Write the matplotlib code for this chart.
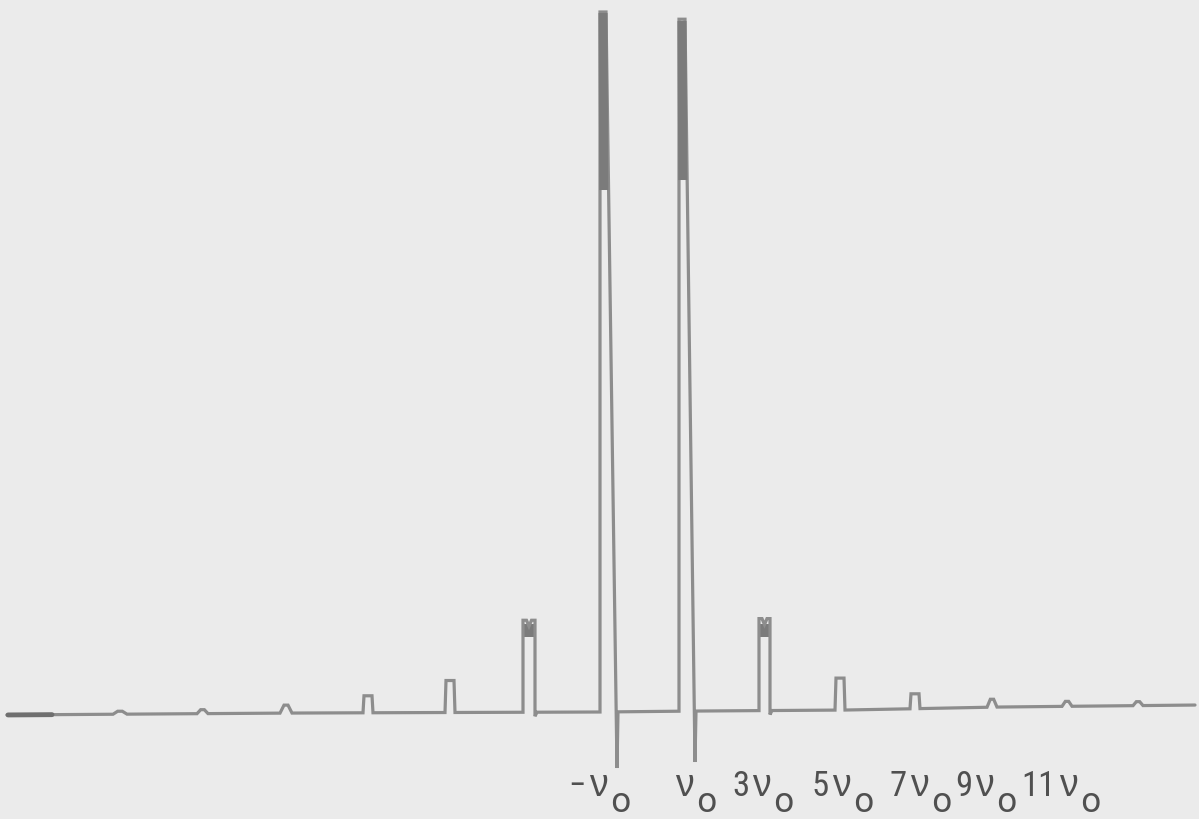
import matplotlib
matplotlib.use("Agg")
import matplotlib.pyplot as plt
from matplotlib import font_manager as fm
import numpy as np

# ---- data (scan position, amplitude above baseline) ----
harmonics   = [-13, -11, -9, -7, -5, -3, 3, 5, 7, 9, 11, 13]
peak_left   = [113, 197, 280, 363, 445, 523, 759, 835, 910, 987, 1062, 1133]
peak_right  = [127, 208, 292, 373, 455, 535, 770, 845, 920, 997, 1072, 1143]
peak_height = [3, 4, 8, 17, 32, 92, 92, 32, 15, 8, 5, 4]

# the two fundamental lines (-v0, +v0): rise, top end, fall end, height, undershoot
main_left   = [600, 679]
main_topend = [606, 685]
main_fall   = [617, 695]
main_height = [700, 692]
main_under  = [-56, -50]
main_dark_end = [522, 532]   # height where the dense top part ends

# slow baseline drift across the scan
drift_x = [0, 300, 600, 700, 850, 1000, 1199]
drift_y = [-3, -1, 0, 1, 2, 5, 7]

label_prefix = ["\u2212", "", "3", "5", "7", "9", "11"]
label_nu_x   = [589, 675, 752, 832, 910, 975, 1059]

# ---- figure ----
BG = "#ebebeb"
LINE = "#8d8d8d"
DARK = "#7b7b7b"
TXT = "#505050"

names = {f.name for f in fm.fontManager.ttflist}
narrow = "DejaVu Sans"
for cand in ["Liberation Sans Narrow", "DejaVu Sans Condensed", "Roboto Condensed",
             "Open Sans Condensed", "Noto Sans"]:
    if cand in names:
        narrow = cand
        break

fig = plt.figure(figsize=(11.99, 8.19), dpi=100, facecolor=BG)
ax = fig.add_axes([0, 0, 1, 1])
ax.set_facecolor(BG)
ax.set_xlim(0, 1199)
ax.set_ylim(-107, 712)
ax.axis("off")

def base(x):
    return float(np.interp(x, drift_x, drift_y))

events = []
for L, R, h in zip(peak_left, peak_right, peak_height):
    events.append(("side", L, R, h))
for i in range(2):
    events.append(("main", main_left[i], i))
events.sort(key=lambda e: e[1])

xs = [7]
ys = [base(7)]
for e in events:
    if e[0] == "side":
        _, L, R, h = e
        w = R - L
        r = 1.0 if h >= 15 else w / 3.0
        bL, bR = base(L), base(R)
        if h > 50:
            m = 0.5 * (L + R)
            pts = [(L, bL), (L, bL + h), (m - 2.5, bL + h), (m, bL + h - 6),
                   (m + 2.5, bL + h), (R, bL + h), (R, bR - 4), (R + 2, bR)]
        else:
            pts = [(L, bL), (L + r, bL + h), (R - r, bL + h), (R, bR)]
    else:
        i = e[2]
        L = main_left[i]
        bL = base(L)
        pts = [(L, bL), (L, bL + main_height[i]), (main_topend[i], bL + main_height[i]),
               (main_fall[i], main_under[i]), (main_fall[i] + 1, base(main_fall[i]))]
    xs.extend(p[0] for p in pts)
    ys.extend(p[1] for p in pts)
xs.append(1195)
ys.append(base(1195))

ax.plot(xs, ys, color=LINE, lw=2.3, solid_joinstyle="miter", solid_capstyle="round")

# dense dark upper parts of the fundamental lines
for i in range(2):
    L = main_left[i]
    ax.plot([L + 3, L + 3.8], [main_height[i] - 1, main_dark_end[i]],
            color=DARK, lw=6.5, solid_capstyle="butt")

# dark caps on the 3rd harmonic lines
for L, R, h in zip(peak_left, peak_right, peak_height):
    if h > 50:
        ax.fill_between([L, R], [h - 17, h - 17], [h - 4, h - 4], color=DARK, lw=0)

# thicker start of the trace
ax.plot([8, 52], [base(8), base(52)], color="#6f6f6f", lw=3.5, solid_capstyle="round")

# labels: prefix, nu, subscript o
for pre, x in zip(label_prefix, label_nu_x):
    if pre:
        ax.text(x - 3, -84, pre, ha="right", va="baseline", fontsize=25,
                family=[narrow, "DejaVu Sans"], color=TXT)
    ax.text(x, -84, "\u03bd", ha="left", va="baseline", fontsize=27,
            family=["Liberation Sans", "DejaVu Sans"], color=TXT)
    ax.text(x + 21, -100, "o", ha="left", va="baseline", fontsize=24,
            family="DejaVu Sans", color=TXT)

fig.savefig("out.png", dpi=100, facecolor=BG)
